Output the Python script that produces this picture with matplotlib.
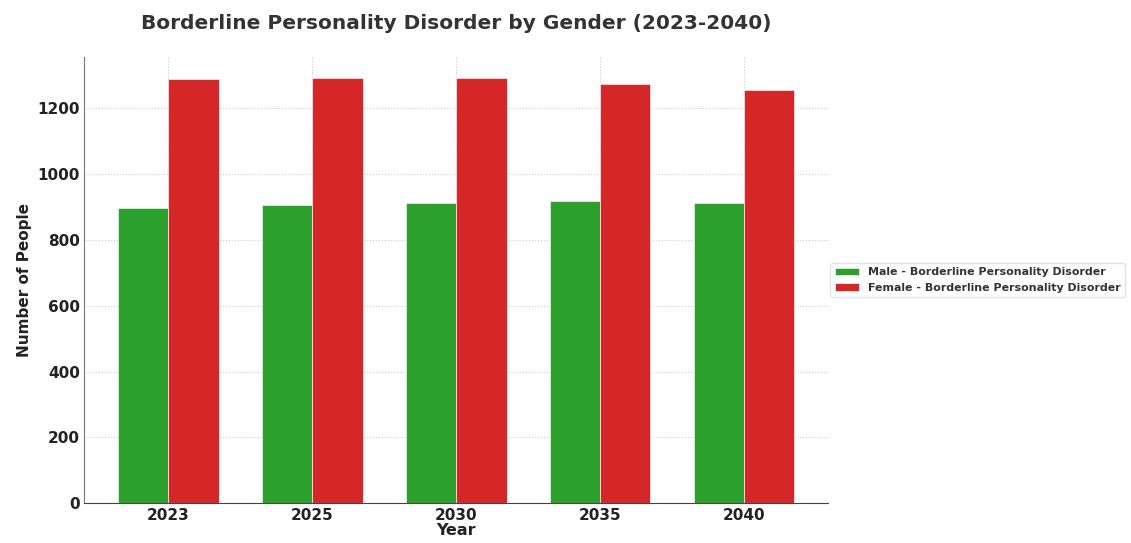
import numpy as np
import matplotlib.pyplot as plt

# Projected number of people with borderline personality disorder
years = ['2023', '2025', '2030', '2035', '2040']
male = [896, 904, 911, 918, 910]
female = [1287, 1290, 1290, 1274, 1254]

x = np.arange(len(years))
width = 0.35

fig = plt.figure(figsize=(11.31, 5.43), dpi=100)
ax = fig.add_axes([0.0743, 0.073, 0.658, 0.822])

ax.bar(x - width / 2, male, width, color='#2ca02c', edgecolor='#e8e8e8', linewidth=0.6,
       label='Male - Borderline Personality Disorder', zorder=3)
ax.bar(x + width / 2, female, width, color='#d62728', edgecolor='#e8e8e8', linewidth=0.6,
       label='Female - Borderline Personality Disorder', zorder=3)

ax.set_xticks(x)
ax.set_xticklabels(years)
ax.set_title('Borderline Personality Disorder by Gender (2023-2040)',
             fontsize=14.5, fontweight='bold', color='#333333', pad=20)
ax.set_xlabel('Year', fontsize=11.5, fontweight='bold', color='#222222', labelpad=0)
ax.set_ylabel('Number of People', fontsize=11, fontweight='bold', color='#222222')

for lab in ax.get_xticklabels() + ax.get_yticklabels():
    lab.set_fontweight('bold')
    lab.set_fontsize(11)
    lab.set_color('#222222')
ax.tick_params(length=0, pad=3)

ax.grid(True, linestyle=':', color='#cccccc', linewidth=0.8, zorder=0)
ax.spines['top'].set_visible(False)
ax.spines['right'].set_visible(False)
ax.spines['left'].set_color('#777777')
ax.spines['bottom'].set_color('#444444')

leg = ax.legend(loc='center left', bbox_to_anchor=(1.0, 0.5),
                prop={'weight': 'bold', 'size': 7.9}, frameon=True, borderaxespad=0.2,
                handlelength=2.2, borderpad=0.4)
leg.get_frame().set_edgecolor('#dddddd')
for t in leg.get_texts():
    t.set_color('#333333')

fig.savefig('out.png', dpi=100)
